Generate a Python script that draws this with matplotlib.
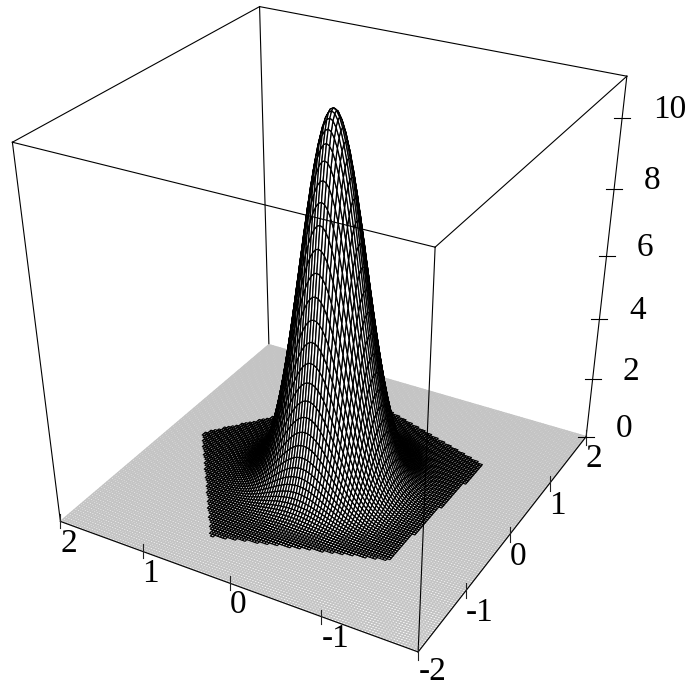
import numpy as np
import matplotlib
matplotlib.use("Agg")
from matplotlib import pyplot as plt
from matplotlib.path import Path
from mpl_toolkits.mplot3d import proj3d
from mpl_toolkits.mplot3d.art3d import Poly3DCollection

W, H = 686, 687

# axis ticks as labelled in the picture
xTicks = [-2, -1, 0, 1, 2]
yTicks = [-1, 0, 1, 2]
zTicks = [0, 2, 4, 6, 8, 10]

# surface: peak height/width and the outline of the raised pentagon
zTop = 11.12
peakWidth = 4.8
pentagonX = [0.037, -1.462, -0.952, 0.965, 1.531]
pentagonY = [1.639, 0.549, -1.142, -1.259, 0.469]
cells = 128

# camera fitted to the box corners and ticks, the original view is slightly off-axis
camera = np.array([[5.6149996e-02, -9.9680460e-02, 1.1728392e-05, -7.6597548e-04],
                   [4.8327842e-02, 2.7122208e-02, 3.6458165e-02, -2.0619279e-01],
                   [0, 0, 0, -10],
                   [1.9591852e-01, 1.0996144e-01, -5.8075400e-02, 4.4868992e+00]])

plt.rcParams['font.family'] = ['Liberation Serif', 'DejaVu Serif']

fig = plt.figure(figsize=(W/100, H/100), dpi=100)
ax = fig.add_axes([-0.0364, 0.0354, 1.019, 1.019*W/H], projection='3d')
ax.computed_zorder = False
ax.set_box_aspect((0.98528, 0.98528, 1))
ax.set_xlim(-2, 2, view_margin=0)
ax.set_ylim(-2, 2, view_margin=0)
ax.set_zlim(0, zTop, view_margin=0)
ax.set_proj_type('persp', focal_length=0.4164)
ax.set_axis_off()
ax.apply_aspect()
ax.get_proj = lambda: camera


def toPixel(x, y, z):
    px, py, _ = proj3d.proj_transform(x, y, z, camera)
    d = ax.transData.transform((px, py))
    return d[0], H-d[1]


# mesh, cut in two: flat grey floor and the dark surface inside the pentagon
gx = np.linspace(-2, 2, cells+1)
X, Y = np.meshgrid(gx, gx)
Z = zTop*np.exp(-peakWidth*(X**2+Y**2))
corners = np.stack([
    np.stack([X[:-1, :-1], Y[:-1, :-1], Z[:-1, :-1]], -1),
    np.stack([X[:-1, 1:], Y[:-1, 1:], Z[:-1, 1:]], -1),
    np.stack([X[1:, 1:], Y[1:, 1:], Z[1:, 1:]], -1),
    np.stack([X[1:, :-1], Y[1:, :-1], Z[1:, :-1]], -1)], 2).reshape(-1, 4, 3)
centres = corners[:, :, :2].mean(axis=1)
inside = Path(np.c_[pentagonX, pentagonY]).contains_points(centres)

floorPolys = corners[~inside].copy()
floorPolys[:, :, 2] = 0
ax.add_collection3d(Poly3DCollection(floorPolys, facecolors='white', edgecolors='#c4c4c4',
                                     linewidths=1.0, zorder=2), autolim=False)
ax.add_collection3d(Poly3DCollection(corners[inside], facecolors='white', edgecolors='black',
                                     linewidths=0.9, zorder=3), autolim=False)


# bounding box
def boxLine(a, b, z):
    ax.plot(*zip(a, b), color='black', lw=0.8, zorder=z, clip_on=False)


boxLine((2, 2, 0), (2, 2, zTop), 1)
for corner in [(-2, -2), (2, -2), (-2, 2)]:
    boxLine((*corner, 0), (*corner, zTop), 4)
for a, b in [((-2, -2), (2, -2)), ((2, -2), (2, 2)), ((2, 2), (-2, 2)), ((-2, 2), (-2, -2))]:
    boxLine((*a, zTop), (*b, zTop), 4)
boxLine((-2, -2, 0), (2, -2, 0), 4)
boxLine((-2, -2, 0), (-2, 2, 0), 4)

# ticks and labels live on a pixel overlay, they stay upright on the screen
over = fig.add_axes([0, 0, 1, 1])
over.set_xlim(0, W)
over.set_ylim(H, 0)
over.axis('off')
over.patch.set_alpha(0)

fs = 24
for v in xTicks:
    px, py = toPixel(v, -2, 0)
    over.plot([px, px], [py-7, py+8], color='#222222', lw=0.8)
    dx = 8 if v >= 0 else (13 if v == -1 else 15)
    dy = 20 if v == -2 else 22
    over.text(px+dx, py+dy, str(v), fontsize=fs, ha='center', va='center')
for v in yTicks:
    px, py = toPixel(-2, v, 0)
    over.plot([px, px], [py-7, py+7], color='#222222', lw=0.8)
    dx = 8 if v >= 0 else 14
    over.text(px+dx, py+22, str(v), fontsize=fs, ha='center', va='center')
for v in zTicks:
    px, py = toPixel(2, -2, v)
    over.plot([px-8, px+8], [py, py], color='black', lw=0.8)
    over.text(px+(48 if v == 10 else 38), py-8, str(v), fontsize=fs, ha='center', va='center')

fig.savefig("out.png", dpi=100)
